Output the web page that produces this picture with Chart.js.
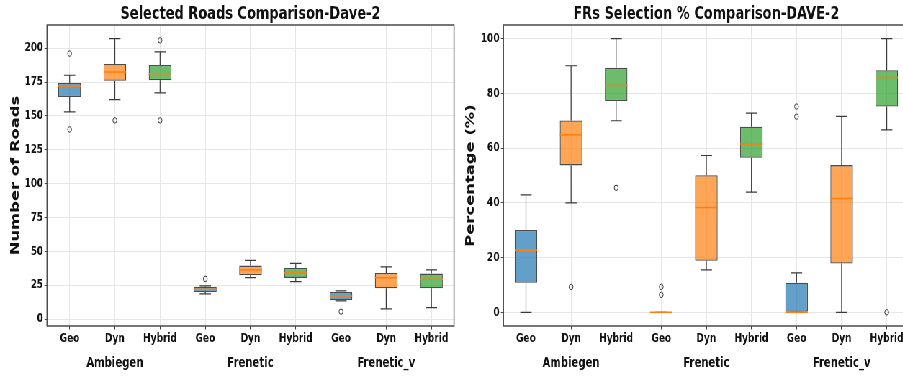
<!DOCTYPE html>
<html>
<head>
<meta charset="utf-8">
<script src="https://cdn.jsdelivr.net/npm/chart.js@4.4.1/dist/chart.umd.min.js"></script>
<style>
  html, body { margin: 0; padding: 0; background: #fff; overflow: hidden; }
  /* figure is laid out wide, then squeezed horizontally */
  #figure { position: relative; width: 1300px; height: 376px; transform: scaleX(0.72); transform-origin: 0 0; }
  #roadsChart { position: absolute; left: 0; top: 0; }
  #frsChart { position: absolute; left: 636px; top: 0; }
</style>
</head>
<body>
<div id="figure">
  <canvas id="roadsChart" width="636" height="376"></canvas>
  <canvas id="frsChart" width="664" height="376"></canvas>
</div>
<script>
const methods = ['Geo', 'Dyn', 'Hybrid'];
const generators = ['Ambiegen', 'Frenetic', 'Frenetic_v'];

// Selected roads, one entry per box: Ambiegen Geo/Dyn/Hybrid, Frenetic ..., Frenetic_v ...
const roadsLow  = [153, 162, 167, 18.6, 30.6, 27.7, 13.4, 7.5, 8.5];
const roadsQ1   = [164, 176, 176.3, 20, 32.3, 30.4, 13.9, 22.7, 22.7];
const roadsMed  = [172, 182.4, 181.2, 22, 36.3, 34.1, 17.1, 30.6, 29.4];
const roadsQ3   = [174.3, 188.3, 187.6, 23.8, 39.5, 37.8, 20, 34.1, 33.6];
const roadsHigh = [180, 207, 197.2, 24.5, 43.4, 41.2, 20.8, 38.5, 36.3];
const roadsOutliers = [[1, 196], [1, 140], [2, 146.7], [3, 205.8], [3, 146.7], [4, 29.7], [7, 5.5]];
const roadsTicks = [0, 25, 50, 75, 100, 125, 150, 175, 200];

// FRs selection percentage
const frLow  = [0, 40, 70, 0, 15.5, 43.9, 0, 0, 66.7];
const frQ1   = [10.8, 53.7, 77.2, 0, 18.8, 56.5, 0, 17.8, 75.2];
const frMed  = [22.7, 64.9, 82.9, 0, 38.3, 61.5, 0, 41.6, 85.8];
const frQ3   = [30.1, 70.1, 89.4, 0, 50.1, 67.8, 10.8, 53.8, 88.5];
const frHigh = [42.9, 90.1, 100, 0, 57.3, 72.8, 14.4, 71.6, 100];
const frOutliers = [[2, 9.3], [3, 45.5], [4, 9.3], [4, 6.4], [7, 75.2], [7, 71.5], [9, 0]];
const frTicks = [0, 20, 40, 60, 80, 100];

const positions = [1, 2, 3, 4, 5, 6, 7, 8, 9];
const fills = ['rgba(31,119,180,0.7)', 'rgba(255,127,14,0.7)', 'rgba(44,160,44,0.7)'];
const FONT = 'DejaVu Sans';
const INK = '#111';

function boxDatasets(q1, q3) {
    return methods.map((m, mi) => ({
        type: 'bar',
        label: m,
        data: generators.map((g, gi) => {
            const k = gi * 3 + mi;
            return { x: positions[k], y: [q1[k], q3[k]] };
        }),
        backgroundColor: fills[mi],
        borderColor: 'rgba(45,45,45,0.85)',
        borderWidth: 1.3,
        borderSkipped: false,
        grouped: false,
        categoryPercentage: 1,
        barPercentage: 0.5
    }));
}

function outlierDataset(points) {
    return {
        type: 'scatter',
        data: points.map(p => ({ x: p[0], y: p[1] })),
        pointStyle: 'circle',
        pointRadius: 2.7,
        borderWidth: 1,
        borderColor: '#333',
        backgroundColor: 'rgba(255,255,255,0)'
    };
}

// whiskers, caps, medians, frame and group names
function boxParts(low, med, high, q1, q3) {
    return {
        id: 'boxParts',
        afterDatasetsDraw(chart) {
            const { ctx, scales: { x, y } } = chart;
            ctx.save();
            positions.forEach((pos, k) => {
                const cx = x.getPixelForValue(pos);
                const halfBox = x.getPixelForValue(pos + 0.25) - cx;
                const halfCap = halfBox / 2;
                ctx.strokeStyle = '#3a3a3a';
                ctx.lineWidth = 1.2;
                ctx.beginPath();
                ctx.moveTo(cx, y.getPixelForValue(q3[k]));
                ctx.lineTo(cx, y.getPixelForValue(high[k]));
                ctx.moveTo(cx, y.getPixelForValue(q1[k]));
                ctx.lineTo(cx, y.getPixelForValue(low[k]));
                ctx.moveTo(cx - halfCap, y.getPixelForValue(high[k]));
                ctx.lineTo(cx + halfCap, y.getPixelForValue(high[k]));
                ctx.moveTo(cx - halfCap, y.getPixelForValue(low[k]));
                ctx.lineTo(cx + halfCap, y.getPixelForValue(low[k]));
                ctx.stroke();
                ctx.strokeStyle = '#ff7f0e';
                ctx.lineWidth = 1.5;
                ctx.beginPath();
                ctx.moveTo(cx - halfBox, y.getPixelForValue(med[k]));
                ctx.lineTo(cx + halfBox, y.getPixelForValue(med[k]));
                ctx.stroke();
            });
            ctx.restore();
        },
        afterDraw(chart) {
            const { ctx, chartArea: a, scales: { x } } = chart;
            ctx.save();
            ctx.strokeStyle = '#4a4a4a';
            ctx.lineWidth = 1.5;
            ctx.strokeRect(a.left, a.top, a.right - a.left, a.bottom - a.top);
            ctx.fillStyle = INK;
            ctx.font = 'bold 14px "' + FONT + '"';
            ctx.textAlign = 'center';
            ctx.textBaseline = 'middle';
            generators.forEach((g, gi) => {
                ctx.fillText(g, x.getPixelForValue(positions[gi * 3 + 1]), 363);
            });
            ctx.restore();
        }
    };
}

function makeChart(canvas, cfg) {
    return new Chart(canvas, {
        type: 'bar',
        data: { datasets: [...boxDatasets(cfg.q1, cfg.q3), outlierDataset(cfg.outliers)] },
        options: {
            responsive: false,
            animation: false,
            layout: { padding: { left: 0, right: cfg.padRight, top: 0, bottom: 0 } },
            plugins: {
                legend: { display: false },
                tooltip: { enabled: false },
                title: {
                    display: true,
                    text: cfg.title,
                    fullSize: false,
                    color: INK,
                    font: { family: FONT, size: 18, weight: 'bold', lineHeight: 1.2 },
                    padding: { top: 3.2, bottom: 0.2 }
                }
            },
            scales: {
                x: {
                    type: 'linear',
                    min: 0.5,
                    max: 9.5,
                    offset: false,
                    afterBuildTicks: s => { s.ticks = positions.map(v => ({ value: v })); },
                    afterFit: s => { s.height = 50; },
                    grid: { offset: false, color: '#e6e6e6', tickColor: '#444', tickLength: 3.5 },
                    border: { display: false },
                    ticks: {
                        autoSkip: false,
                        maxRotation: 0,
                        padding: 2,
                        color: INK,
                        font: { family: FONT, size: 12.5, weight: 'bold' },
                        callback: v => methods[(v - 1) % 3]
                    }
                },
                y: {
                    type: 'linear',
                    min: cfg.yMin,
                    max: cfg.yMax,
                    afterBuildTicks: s => { s.ticks = cfg.ticks.map(v => ({ value: v })); },
                    afterFit: s => { s.width = cfg.axisWidth; },
                    grid: { color: '#e6e6e6', tickColor: '#444', tickLength: 3.5 },
                    border: { display: false },
                    ticks: {
                        padding: 2,
                        color: INK,
                        font: { family: FONT, size: 12.3, weight: 'bold' }
                    },
                    title: {
                        display: true,
                        text: cfg.yTitle,
                        color: INK,
                        font: { family: FONT, size: 16.4, weight: 'bold', lineHeight: 1.2 },
                        padding: { top: cfg.titlePad, bottom: 0 }
                    }
                }
            }
        },
        plugins: [boxParts(cfg.low, cfg.med, cfg.high, cfg.q1, cfg.q3)]
    });
}

makeChart(document.getElementById('roadsChart'), {
    title: 'Selected Roads Comparison-Dave-2',
    yTitle: 'Number of Roads',
    low: roadsLow, q1: roadsQ1, med: roadsMed, q3: roadsQ3, high: roadsHigh,
    outliers: roadsOutliers, ticks: roadsTicks,
    yMin: -5.1, yMax: 217.1,
    axisWidth: 65.3, titlePad: 11.7, padRight: 5.4
});

makeChart(document.getElementById('frsChart'), {
    title: 'FRs Selection % Comparison-DAVE-2',
    yTitle: 'Percentage (%)',
    low: frLow, q1: frQ1, med: frMed, q3: frQ3, high: frHigh,
    outliers: frOutliers, ticks: frTicks,
    yMin: -5, yMax: 105,
    axisWidth: 63.2, titlePad: 7.9, padRight: 37.1
});
</script>
</body>
</html>
